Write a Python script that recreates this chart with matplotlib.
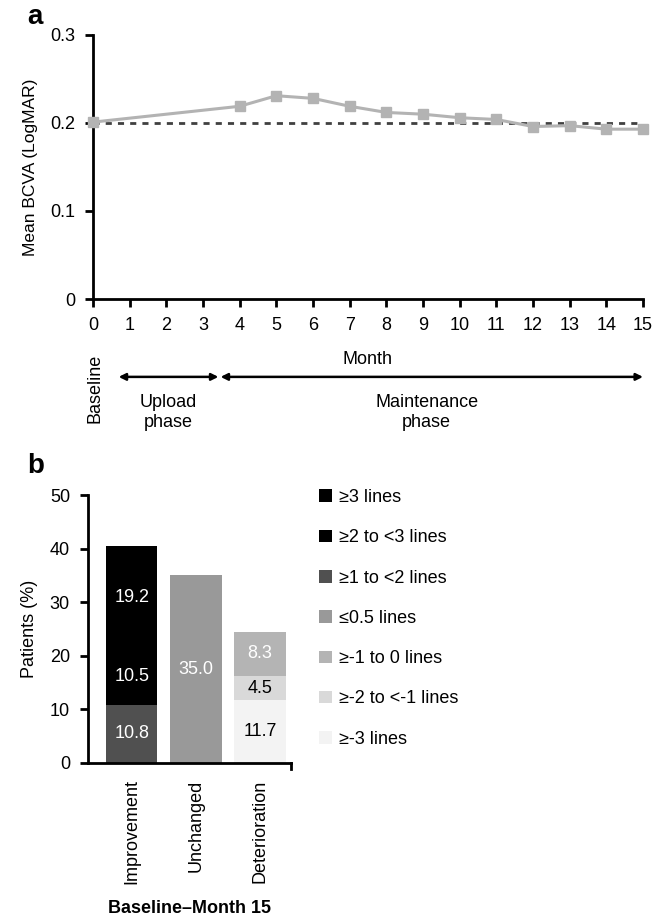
import matplotlib
matplotlib.use("Agg")
import matplotlib.pyplot as plt
from matplotlib.patches import Patch
import numpy as np

plt.rcParams['font.family'] = ['Liberation Sans', 'DejaVu Sans']

# ---- Panel a data ----
months = [0, 4, 5, 6, 7, 8, 9, 10, 11, 12, 13, 14, 15]
bcva = [0.201, 0.219, 0.231, 0.228, 0.219, 0.212, 0.210, 0.206, 0.204, 0.196, 0.197, 0.193, 0.193]
baseline_value = 0.2
month_ticks = list(range(0, 16))
y_ticks_a = [0, 0.1, 0.2, 0.3]

# ---- Panel b data ----
categories = ["Improvement", "Unchanged", "Deterioration"]
# segments (bottom to top) per category
improvement_vals = [10.8, 10.5, 19.2]
improvement_labels = ["≥1 to <2 lines", "≥2 to <3 lines", "≥3 lines"]
unchanged_vals = [35.0]
unchanged_labels = ["≤0.5 lines"]
deterioration_vals = [11.7, 4.5, 8.3]
deterioration_labels = ["≥-3 lines", "≥-2 to <-1 lines", "≥-1 to 0 lines"]
legend_order = ["≥3 lines", "≥2 to <3 lines", "≥1 to <2 lines", "≤0.5 lines",
                "≥-1 to 0 lines", "≥-2 to <-1 lines", "≥-3 lines"]
colors = {"≥3 lines": "#000000", "≥2 to <3 lines": "#000000", "≥1 to <2 lines": "#505050",
          "≤0.5 lines": "#999999", "≥-1 to 0 lines": "#b4b4b4", "≥-2 to <-1 lines": "#d9d9d9",
          "≥-3 lines": "#f3f3f3"}
text_colors = {"≥3 lines": "white", "≥2 to <3 lines": "white", "≥1 to <2 lines": "white",
               "≤0.5 lines": "white", "≥-1 to 0 lines": "white", "≥-2 to <-1 lines": "black",
               "≥-3 lines": "black"}
y_ticks_b = [0, 10, 20, 30, 40, 50]

FS = 13
fig = plt.figure(figsize=(6.64, 9.21), dpi=100)

# ================= Panel a =================
axa = fig.add_axes([93/664, 1-299/921, (643-93)/664, (299-35)/921])
axa.plot(months, bcva, color="#b3b3b3", lw=2.2, marker="s", ms=6.5, zorder=3, clip_on=False)
axa.axhline(baseline_value, color="#404040", lw=2, ls=(0, (2.2, 2.2)), zorder=2)
axa.set_xlim(0, 15)
axa.set_ylim(0, 0.3)
axa.set_xticks(month_ticks)
axa.set_yticks(y_ticks_a)
axa.set_yticklabels(["0", "0.1", "0.2", "0.3"])
for s in ["top", "right"]:
    axa.spines[s].set_visible(False)
for s in ["left", "bottom"]:
    axa.spines[s].set_linewidth(2)
axa.tick_params(width=2, length=6, labelsize=FS, direction="out", pad=7)
axa.set_ylabel("Mean BCVA (LogMAR)", fontsize=12.5)
axa.yaxis.set_label_coords((38 - 93) / 550, 0.5)
axa.set_xlabel("Month", fontsize=FS, labelpad=12)

tr = axa.get_xaxis_transform()
axa.text(0.05, -0.34, "Baseline", rotation=90, ha="center", va="center",
         fontsize=FS, transform=tr)
axa.annotate("", xy=(0.7, -0.295), xytext=(3.42, -0.295), xycoords=tr, textcoords=tr,
             arrowprops=dict(arrowstyle="<|-|>", color="black", lw=1.8,
                             mutation_scale=10, shrinkA=0, shrinkB=0))
axa.annotate("", xy=(3.48, -0.295), xytext=(15.0, -0.295), xycoords=tr, textcoords=tr,
             arrowprops=dict(arrowstyle="<|-|>", color="black", lw=1.8,
                             mutation_scale=10, shrinkA=0, shrinkB=0))
axa.text(2.05, -0.43, "Upload\nphase", ha="center", va="center", fontsize=FS,
         transform=tr, linespacing=1.25)
axa.text(9.1, -0.43, "Maintenance\nphase", ha="center", va="center", fontsize=FS,
         transform=tr, linespacing=1.25)

fig.text(27/664, 1-17/921, "a", fontsize=20, fontweight="bold", ha="left", va="center")

# ================= Panel b =================
axb = fig.add_axes([88/664, 1-762.7/921, (291-88)/664, (762.7-495)/921])
xpos = np.arange(len(categories))
width = 0.8
groups = [(improvement_vals, improvement_labels),
          (unchanged_vals, unchanged_labels),
          (deterioration_vals, deterioration_labels)]
for i, (vals, labs) in enumerate(groups):
    bottom = 0
    for v, lab in zip(vals, labs):
        axb.bar(xpos[i], v, width, bottom=bottom, color=colors[lab], edgecolor="none", zorder=2)
        axb.text(xpos[i], bottom + v/2, f"{v:.1f}", ha="center", va="center",
                 color=text_colors[lab], fontsize=FS)
        bottom += v

axb.set_xlim(-0.68, 2.48)
axb.set_ylim(0, 50)
axb.set_yticks(y_ticks_b)
axb.set_xticks(xpos)
axb.set_xticklabels(categories, rotation=90, fontsize=FS)
for s in ["top", "right"]:
    axb.spines[s].set_visible(False)
for s in ["left", "bottom"]:
    axb.spines[s].set_linewidth(2)
axb.tick_params(axis="y", width=2, length=6, labelsize=FS, pad=7)
axb.tick_params(axis="x", length=0, pad=12)
axb.plot([2.48, 2.48], [0, -0.025], transform=axb.get_xaxis_transform(),
         color="black", lw=2, clip_on=False)
axb.set_ylabel("Patients (%)", fontsize=FS)
axb.yaxis.set_label_coords((38 - 88) / 203, 0.5)
axb.set_xlabel("Baseline–Month 15", fontsize=FS, fontweight="bold", labelpad=11)

fig.text(27/664, 1-466/921, "b", fontsize=20, fontweight="bold", ha="left", va="center")

handles = [Patch(facecolor=colors[l], edgecolor="none", label=l) for l in legend_order]
fig.legend(handles=handles, loc="upper left", bbox_to_anchor=(319/664, 1-489/921),
           frameon=False, fontsize=FS, handlelength=0.7, handleheight=0.7,
           handletextpad=0.4, labelspacing=1.29, borderpad=0, borderaxespad=0)

fig.savefig("out.png", dpi=100)
